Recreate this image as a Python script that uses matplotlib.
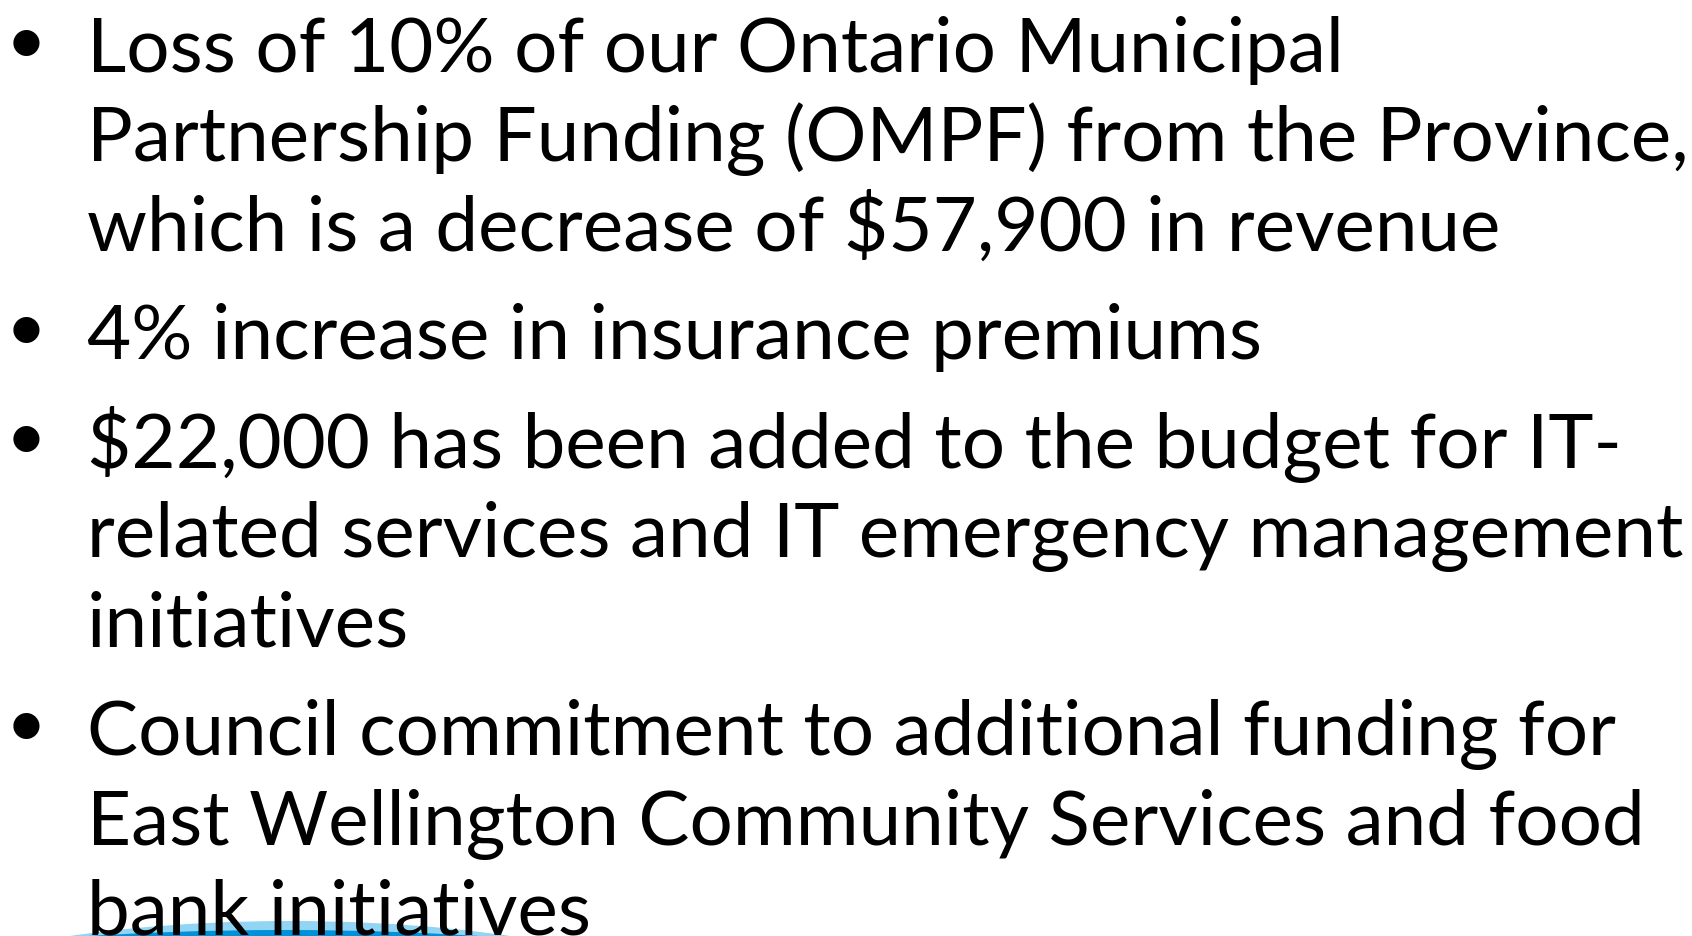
import matplotlib
matplotlib.use("Agg")
import matplotlib.pyplot as plt
from matplotlib.patches import Ellipse

W, H = 1692, 937
DPI = 100

# Slide content (wrapped as in the reference)
bullets = [
    ["Loss of 10% of our Ontario Municipal",
     "Partnership Funding (OMPF) from the Province,",
     "which is a decrease of $57,900 in revenue"],
    ["4% increase in insurance premiums"],
    ["$22,000 has been added to the budget for IT-",
     "related services and IT emergency management",
     "initiatives"],
    ["Council commitment to additional funding for",
     "East Wellington Community Services and food",
     "bank initiatives"],
]

FONT = "Lato"
FS = 55
TEXT_X = 87
BULLET_X = 26
FIRST_BASE = 72
LINE_STEP = 89.5
PARA_GAP = 19

fig = plt.figure(figsize=(W / DPI, H / DPI), dpi=DPI)
fig.patch.set_facecolor("white")
ax = fig.add_axes([0, 0, 1, 1])
ax.set_xlim(0, W)
ax.set_ylim(H, 0)
ax.axis("off")

# blue swoosh at the bottom left
ax.add_patch(Ellipse((290, 1022), 836, 200, facecolor="#92d4f4", edgecolor="none", zorder=1))
ax.add_patch(Ellipse((284, 1031), 1142, 200, facecolor="#0091d9", edgecolor="none", zorder=2))

y = FIRST_BASE
for para in bullets:
    ax.text(BULLET_X, y - 8, "\u2022", fontsize=FS * 0.92, family=FONT, ha="center", va="baseline",
            color="black", zorder=5)
    for line in para:
        ax.text(TEXT_X, y, line, fontsize=FS, family=FONT, ha="left", va="baseline",
                color="black", zorder=5)
        y += LINE_STEP
    y += PARA_GAP

fig.savefig("out.png", dpi=DPI, facecolor="white")
